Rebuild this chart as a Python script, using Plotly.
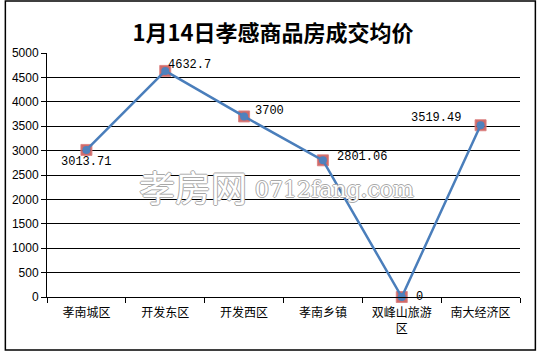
import plotly.graph_objects as go

# Average transaction price of commercial housing by district, Jan 14
districts = ["孝南城区", "开发东区", "开发西区", "孝南乡镇", "双峰山旅游<br>区", "南大经济区"]
prices = [3013.71, 4632.7, 3700, 2801.06, 0, 3519.49]
price_labels = ["3013.71", "4632.7", "3700", "2801.06", "0", "3519.49"]
# (xanchor, xshift, yshift) for each value label
label_offsets = [("center", 0, -12), ("left", 1, 6), ("left", 9, 5),
                 ("left", 12, 3), ("left", 12, 0), ("right", -18, 7)]
y_ticks = list(range(0, 5001, 500))

W, H = 539, 354
L, R, T, B = 43, 19, 53, 57
pw, ph = W - L - R, H - T - B


def px_to_paper(x, y):
    return (x - L) / pw, (H - B - y) / ph


fig = go.Figure()

# red square marker underlay
fig.add_trace(go.Scatter(
    x=districts, y=prices, mode="markers",
    marker=dict(symbol="square", size=11, color="rgba(200,80,77,0.85)",
                line=dict(color="rgba(220,130,130,0.9)", width=1)),
    hoverinfo="skip", showlegend=False, cliponaxis=False,
))

# blue line with round markers
fig.add_trace(go.Scatter(
    x=districts, y=prices, mode="lines+markers",
    line=dict(color="#4A7EBB", width=2.5),
    marker=dict(symbol="circle", size=8, color="#4F81BD"),
    showlegend=False, cliponaxis=False,
))

# value labels
for cat, val, lab, (anchor, dx, dy) in zip(districts, prices, price_labels, label_offsets):
    fig.add_annotation(x=cat, y=val, xref="x", yref="y", text=lab, showarrow=False,
                       xanchor=anchor, yanchor="middle", xshift=dx, yshift=dy,
                       font=dict(family="Liberation Mono, DejaVu Sans Mono, monospace",
                                 size=12, color="#000000"))

x0, y0 = px_to_paper(1, 1)
x1, y1 = px_to_paper(535.5, 350)

fig.update_layout(
    width=W, height=H,
    margin=dict(l=L, r=R, t=T, b=B),
    paper_bgcolor="white", plot_bgcolor="white",
    title=dict(text="<b>1月14日孝感商品房成交均价</b>", x=273 / W, xanchor="center",
               y=1 - 33 / H, yanchor="middle",
               font=dict(family="Noto Sans CJK SC", size=22, color="#000000")),
    xaxis=dict(
        type="category", range=[-0.5, 5.5],
        showline=True, linecolor="black", linewidth=1,
        ticks="outside", tickson="boundaries", ticklen=5, tickcolor="black",
        showgrid=False, ticklabelstandoff=5,
        tickfont=dict(family="Noto Sans CJK SC", size=12, color="#000000"),
    ),
    yaxis=dict(
        range=[0, 5000], tickvals=y_ticks,
        showline=True, linecolor="black", linewidth=1,
        ticks="outside", ticklen=5, tickcolor="black",
        showgrid=True, gridcolor="black", gridwidth=1,
        zeroline=False,
        tickfont=dict(family="Liberation Sans, Arial, sans-serif", size=12, color="#000000"),
    ),
    shapes=[dict(type="rect", xref="paper", yref="paper",
                 x0=x0, y0=y1, x1=x1, y1=y0,
                 line=dict(color="black", width=1.5), layer="above")],
)

# site watermark
outline = "1px 0 0 #a8a8a8, -1px 0 0 #a8a8a8, 0 1px 0 #a8a8a8, 0 -1px 0 #a8a8a8"
wx, wy = px_to_paper(190, 186)
fig.add_annotation(x=wx, y=wy, xref="paper", yref="paper", showarrow=False,
                   text="孝房网", xanchor="center", yanchor="middle",
                   font=dict(family="Noto Sans CJK SC", size=36, color="white", shadow=outline))
wx2, wy2 = px_to_paper(333, 189)
fig.add_annotation(x=wx2, y=wy2, xref="paper", yref="paper", showarrow=False,
                   text="0712fang.com", xanchor="center", yanchor="middle",
                   font=dict(family="DejaVu Serif", size=22, color="white", shadow=outline))

fig.write_html("out.html")
